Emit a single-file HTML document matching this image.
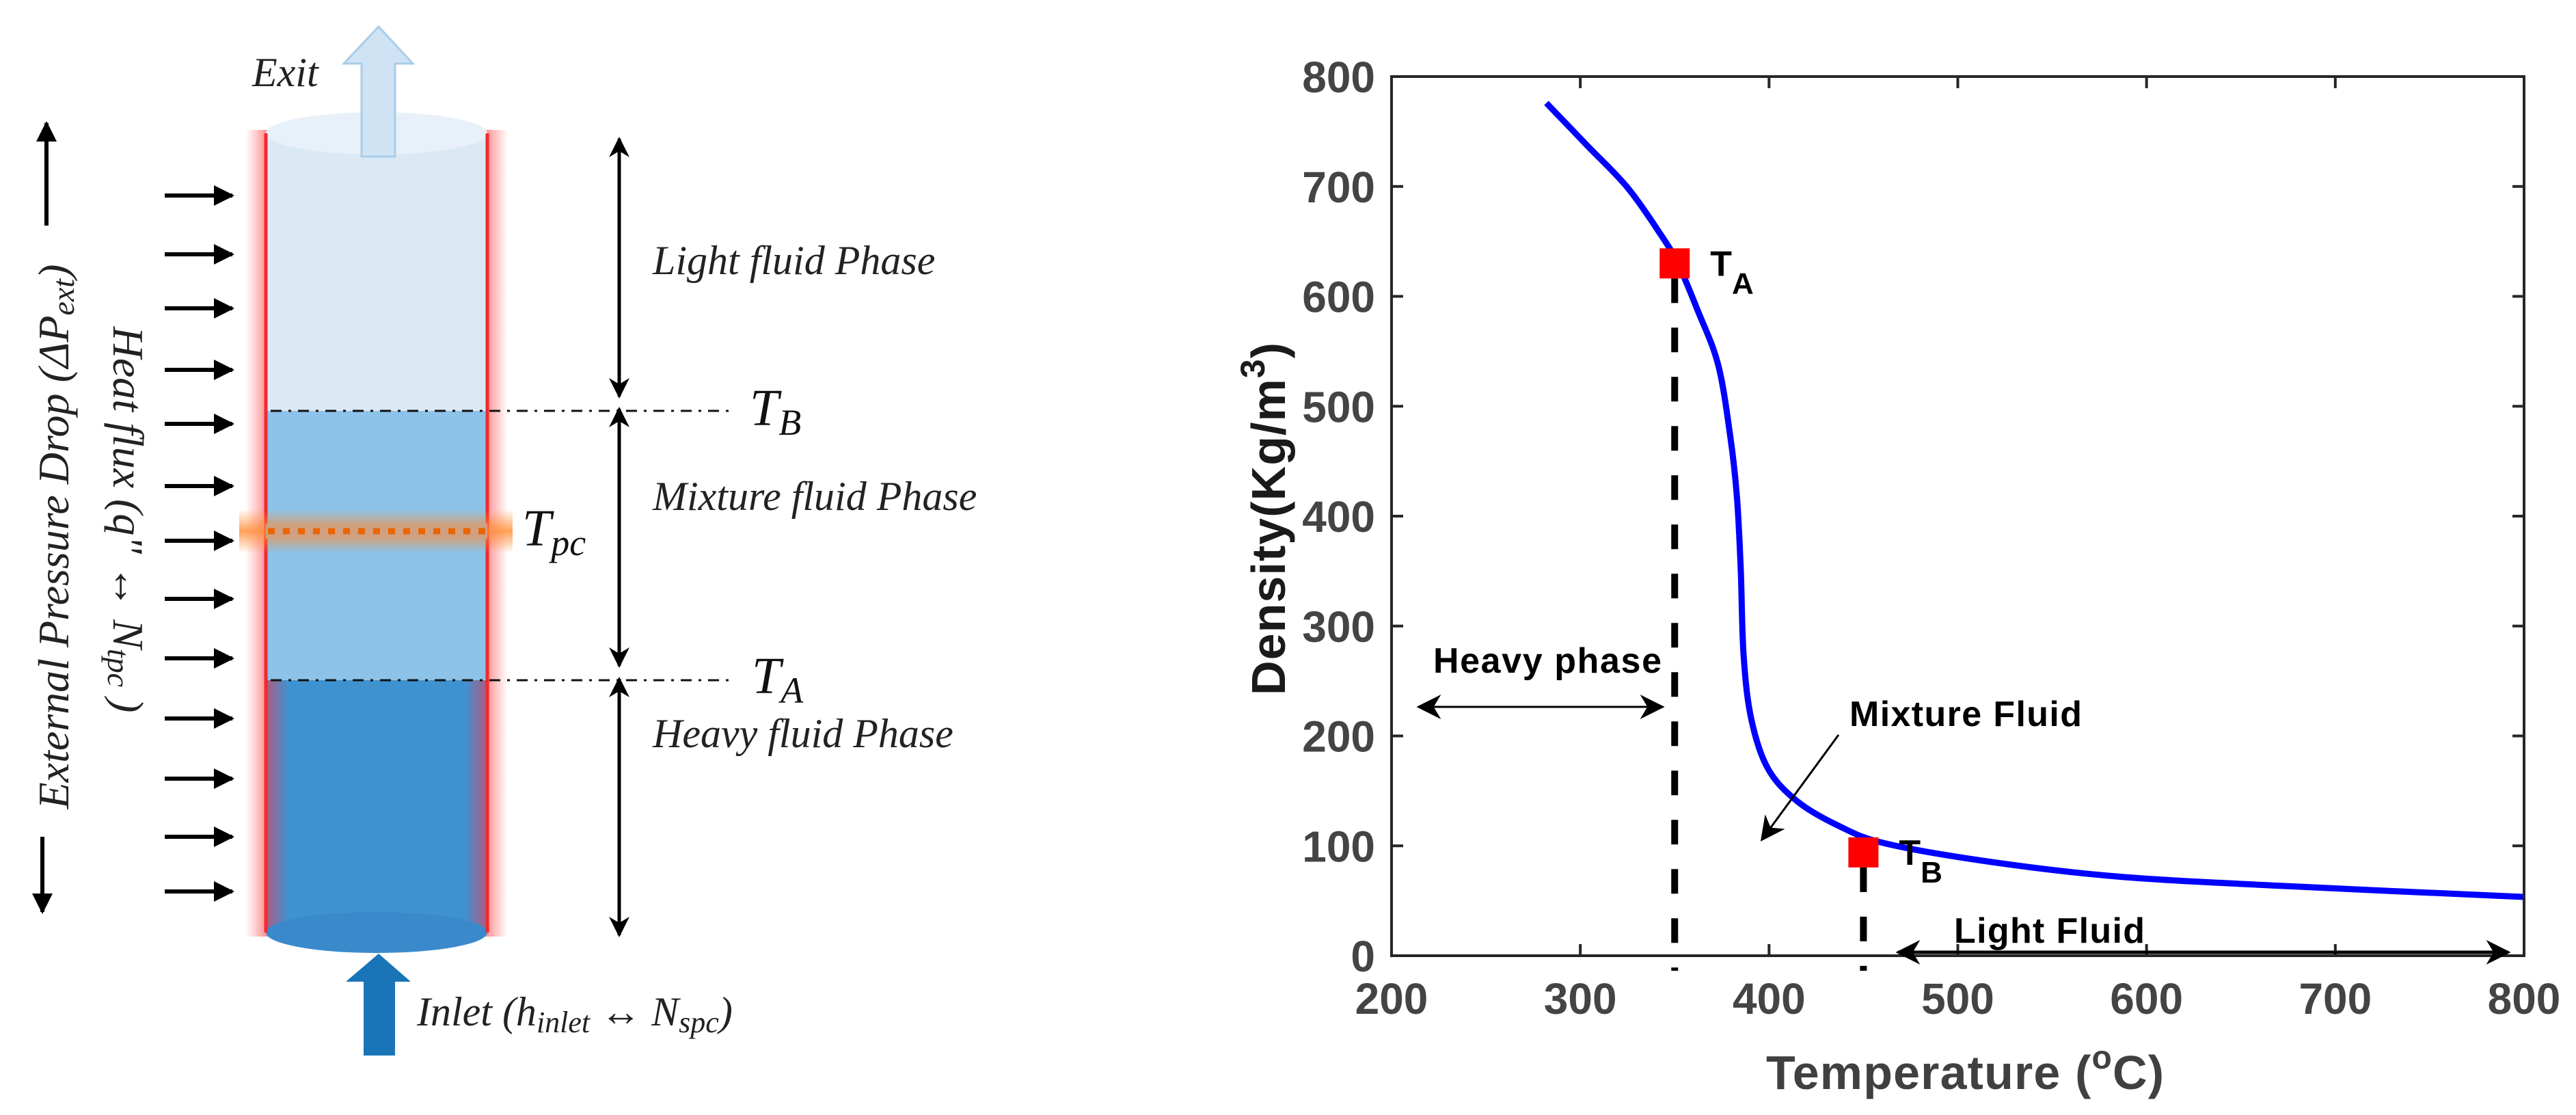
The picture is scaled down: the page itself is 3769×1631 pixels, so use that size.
<!DOCTYPE html>
<html><head><meta charset="utf-8"><style>
html,body{margin:0;padding:0;background:#fff;}
svg{display:block;}
</style></head><body>
<svg id="root" width="3769" height="1631" viewBox="0 0 3769 1631" xmlns="http://www.w3.org/2000/svg">
<defs>
<linearGradient id="wallglow" x1="0" x2="1" y1="0" y2="0">
<stop offset="0" stop-color="#ff9090" stop-opacity="0"/><stop offset="0.5" stop-color="#ff8080" stop-opacity="0.85"/><stop offset="1" stop-color="#ff9090" stop-opacity="0"/></linearGradient>
<linearGradient id="tpcglow" x1="0" x2="0" y1="0" y2="1">
<stop offset="0" stop-color="#ff8a30" stop-opacity="0"/><stop offset="0.5" stop-color="#ff8a30" stop-opacity="0.8"/><stop offset="1" stop-color="#ff8a30" stop-opacity="0"/></linearGradient>
<linearGradient id="heavyg" x1="0" x2="1" y1="0" y2="0">
<stop offset="0" stop-color="#b05a80"/><stop offset="0.1" stop-color="#3f92d0"/><stop offset="0.9" stop-color="#3f92d0"/><stop offset="1" stop-color="#b05a80"/></linearGradient>
<marker id="ahL" viewBox="0 0 10 10" refX="9" refY="5" markerWidth="40" markerHeight="36" orient="auto-start-reverse" markerUnits="userSpaceOnUse"><path d="M0,0 L10,5 L0,10 L3,5 z" fill="#000"/></marker>
<marker id="ahM" viewBox="0 0 10 10" refX="9" refY="5" markerWidth="32" markerHeight="30" orient="auto-start-reverse" markerUnits="userSpaceOnUse"><path d="M0,0 L10,5 L0,10 L3,5 z" fill="#000"/></marker>
<marker id="ahH" viewBox="0 0 10 10" refX="9" refY="5" markerWidth="30" markerHeight="30" orient="auto-start-reverse" markerUnits="userSpaceOnUse"><path d="M0,0 L10,5 L0,10 z" fill="#000"/></marker>
</defs>

<!-- LEFT DIAGRAM -->
<g>
  <rect x="359" y="190" width="60" height="1180" fill="url(#wallglow)"/>
  <rect x="683" y="190" width="60" height="1180" fill="url(#wallglow)"/>
  <rect x="389" y="195" width="324" height="406" fill="#dbe9f5"/>
  <rect x="389" y="601" width="324" height="394" fill="#8dc3e8"/>
  <rect x="389" y="995" width="324" height="369" fill="url(#heavyg)"/>
  <ellipse cx="551" cy="1364" rx="162" ry="30" fill="#3a8acb"/>
  <ellipse cx="551" cy="195" rx="162" ry="31" fill="#e8f1f9"/>
  <line x1="389" y1="195" x2="389" y2="1364" stroke="#f02a30" stroke-width="5"/>
  <line x1="713" y1="195" x2="713" y2="1364" stroke="#f02a30" stroke-width="5"/>
  <rect x="350" y="745" width="400" height="64" fill="url(#tpcglow)"/>
  <rect x="389" y="766" width="324" height="22" fill="#d0a080"/>
  <line x1="392" y1="777" x2="713" y2="777" stroke="#ea6500" stroke-width="9" stroke-dasharray="10 12"/>
  <line x1="396" y1="601" x2="1074" y2="601" stroke="#111" stroke-width="3" stroke-dasharray="16 10 4 10"/>
  <line x1="396" y1="995" x2="1074" y2="995" stroke="#111" stroke-width="3" stroke-dasharray="16 10 4 10"/>
  <path d="M529,229 L529,93 L503,93 L554,39 L604,93 L578,93 L578,229 Z" fill="#cfe3f4" stroke="#a9cde9" stroke-width="3"/>
  <text x="369" y="126" font-family="Liberation Serif" font-style="italic" font-size="60" fill="#222">Exit</text>
  <path d="M532,1544 L532,1436 L506,1436 L554,1395 L601,1436 L578,1436 L578,1544 Z" fill="#1a75b8"/>
  <text x="610" y="1500" font-family="Liberation Serif" font-style="italic" font-size="60" fill="#222">Inlet (h<tspan font-size="44" dy="10">inlet</tspan><tspan dy="-10"> ↔  N</tspan><tspan font-size="44" dy="10">spc</tspan><tspan dy="-10">)</tspan></text>
  <g id="heatArrows"></g>
  <line x1="68" y1="330" x2="68" y2="180" stroke="#000" stroke-width="6" marker-end="url(#ahH)"/>
  <line x1="62" y1="1224" x2="62" y2="1334" stroke="#000" stroke-width="6" marker-end="url(#ahH)"/>
  <text transform="translate(100,785) rotate(-90)" text-anchor="middle" font-family="Liberation Serif" font-style="italic" font-size="64" fill="#222">External Pressure Drop (ΔP<tspan font-size="46" dy="8">ext</tspan><tspan dy="-8">)</tspan></text>
  <text transform="translate(166,760) rotate(90)" text-anchor="middle" font-family="Liberation Serif" font-style="italic" font-size="64" fill="#222">Heat flux (q" ↔  N<tspan font-size="46" dy="8">tpc</tspan><tspan dy="-8"> )</tspan></text>
  <line x1="906" y1="203" x2="906" y2="580" stroke="#000" stroke-width="5" marker-start="url(#ahM)" marker-end="url(#ahM)"/>
  <line x1="906" y1="598" x2="906" y2="974" stroke="#000" stroke-width="5" marker-start="url(#ahM)" marker-end="url(#ahM)"/>
  <line x1="906" y1="993" x2="906" y2="1368" stroke="#000" stroke-width="5" marker-start="url(#ahM)" marker-end="url(#ahM)"/>
  <text x="955" y="401" font-family="Liberation Serif" font-style="italic" font-size="60" fill="#222">Light fluid Phase</text>
  <text x="955" y="746" font-family="Liberation Serif" font-style="italic" font-size="60" fill="#222">Mixture fluid Phase</text>
  <text x="955" y="1093" font-family="Liberation Serif" font-style="italic" font-size="60" fill="#222">Heavy fluid Phase</text>
  <text x="1097" y="622" font-family="Liberation Serif" font-style="italic" font-size="76" fill="#111">T<tspan font-size="54" dy="14">B</tspan></text>
  <text x="764" y="798" font-family="Liberation Serif" font-style="italic" font-size="76" fill="#111">T<tspan font-size="54" dy="14">pc</tspan></text>
  <text x="1100" y="1014" font-family="Liberation Serif" font-style="italic" font-size="76" fill="#111">T<tspan font-size="54" dy="14">A</tspan></text>
</g>

<!-- CHART -->
<g id="chart">
  <g id="ticks"></g>
  <path id="curve" fill="none" stroke="#0000ff" stroke-width="9" stroke-linejoin="round"/>
  <g id="marks"></g>
  <rect x="2036" y="112" width="1657" height="1286" fill="none" stroke="#262626" stroke-width="4"/>
  <text transform="translate(1880,759) rotate(-90)" text-anchor="middle" font-family="Liberation Sans" font-weight="bold" font-size="70" fill="#1a1a1a" textLength="516">Density(Kg/m<tspan font-size="50" dy="-30">3</tspan><tspan dy="30">)</tspan></text>
  <text x="2584" y="1593" font-family="Liberation Sans" font-weight="bold" font-size="70" fill="#404040" textLength="582">Temperature (<tspan font-size="48" dy="-30">o</tspan><tspan dy="30">C)</tspan></text>
  <text x="2097" y="984" font-family="Liberation Sans" font-weight="bold" font-size="52" fill="#000" textLength="334">Heavy phase</text>
  <line x1="2076" y1="1034" x2="2432" y2="1034" stroke="#000" stroke-width="3" marker-start="url(#ahL)" marker-end="url(#ahL)"/>
  <text x="2706" y="1062" font-family="Liberation Sans" font-weight="bold" font-size="52" fill="#000" textLength="340">Mixture Fluid</text>
  <line x1="2690" y1="1075" x2="2578" y2="1228" stroke="#000" stroke-width="3" marker-end="url(#ahL)"/>
  <text x="2859" y="1379" font-family="Liberation Sans" font-weight="bold" font-size="52" fill="#000" textLength="279">Light Fluid</text>
  <line x1="2777" y1="1393" x2="3670" y2="1393" stroke="#000" stroke-width="5" marker-start="url(#ahL)" marker-end="url(#ahL)"/>
</g>
</svg>
<script>
const NS='http://www.w3.org/2000/svg';
const heatYs=[286,372,451,541,620,711,791,876,963,1051,1139,1224,1304];
const xTicks=[200,300,400,500,600,700,800];
const yTicks=[0,100,200,300,400,500,600,700,800];
const temps=[282,303.5,325,342.5,351.7,362,373,379.5,383,385,386.5,390.5,399.3,414.6,436.5,462,519,585,672,800];
const dens=[776,737.5,699,656.5,630,588,538,472,417,352,274,216,170.6,141,118.5,102,85,72,63.5,53.5];
const markerT=[350,450];
const markerRho=[630,94];
const markerLbl=['A','B'];
const dropT=[350,450];

const X0=2036,X1=3693,Y0=1398,Y1=112;
function sx(t){return X0+(t-200)/600*(X1-X0);}
function sy(r){return Y0-r/800*(Y0-Y1);}

const ha=document.getElementById('heatArrows');
heatYs.forEach(y=>{
  const l=document.createElementNS(NS,'line');
  l.setAttribute('x1',241);l.setAttribute('x2',340);l.setAttribute('y1',y);l.setAttribute('y2',y);
  l.setAttribute('stroke','#000');l.setAttribute('stroke-width',6);l.setAttribute('marker-end','url(#ahH)');
  
  
  ha.appendChild(l);
});

const tg=document.getElementById('ticks');
function txt(x,y,s,anchor){
  const t=document.createElementNS(NS,'text');
  t.setAttribute('x',x);t.setAttribute('y',y);t.setAttribute('text-anchor',anchor);
  t.setAttribute('font-family','Liberation Sans');t.setAttribute('font-weight','bold');
  t.setAttribute('font-size','64');t.setAttribute('fill','#444');t.textContent=s;
  tg.appendChild(t);return t;
}
function ln(x1,y1,x2,y2,c,w){
  const l=document.createElementNS(NS,'line');
  l.setAttribute('x1',x1);l.setAttribute('y1',y1);l.setAttribute('x2',x2);l.setAttribute('y2',y2);
  l.setAttribute('stroke',c);l.setAttribute('stroke-width',w);return l;
}
xTicks.forEach(v=>{
  const x=sx(v);
  const a=ln(x,Y0,x,Y0-17,'#262626',4);
  
  
  tg.appendChild(a);
  const b=ln(x,Y1,x,Y1+17,'#262626',4);
  
  
  tg.appendChild(b);
  const t=txt(x,1483,String(v),'middle');
  
  
});
yTicks.forEach(v=>{
  const y=sy(v);
  const a=ln(X0,y,X0+17,y,'#262626',4);
  
  
  tg.appendChild(a);
  const b=ln(X1,y,X1-17,y,'#262626',4);
  
  
  tg.appendChild(b);
  const t=txt(2012,y+23,String(v),'end');
  
  
});

const pts=temps.map((t,i)=>[sx(t),sy(dens[i])]);
let d='M'+pts[0][0]+','+pts[0][1];
for(let i=0;i<pts.length-1;i++){
  const p0=pts[Math.max(0,i-1)],p1=pts[i],p2=pts[i+1],p3=pts[Math.min(pts.length-1,i+2)];
  const c1=[p1[0]+(p2[0]-p0[0])/6,p1[1]+(p2[1]-p0[1])/6];
  const c2=[p2[0]-(p3[0]-p1[0])/6,p2[1]-(p3[1]-p1[1])/6];
  d+=' C'+c1[0]+','+c1[1]+' '+c2[0]+','+c2[1]+' '+p2[0]+','+p2[1];
}
document.getElementById('curve').setAttribute('d',d);

const mg=document.getElementById('marks');
dropT.forEach((t,i)=>{
  const x=sx(t);
  const l=ln(x,sy(markerRho[i])+22,x,1420,'#000',10);
  l.setAttribute('stroke-dasharray','36 36');
  
  
  mg.appendChild(l);
});
markerT.forEach((t,i)=>{
  const r=document.createElementNS(NS,'rect');
  r.setAttribute('x',sx(t)-22);r.setAttribute('y',sy(markerRho[i])-22);
  r.setAttribute('width',44);r.setAttribute('height',44);r.setAttribute('fill','#ff0000');
  
  
  mg.appendChild(r);
  const tx=document.createElementNS(NS,'text');
  tx.setAttribute('x',sx(t)+52);tx.setAttribute('y',sy(markerRho[i])+18);
  tx.setAttribute('font-family','Liberation Sans');tx.setAttribute('font-weight','bold');
  tx.setAttribute('font-size','52');tx.setAttribute('fill','#000');
  tx.innerHTML='T<tspan font-size="44" dy="26">'+markerLbl[i]+'</tspan>';
  
  
  mg.appendChild(tx);
});
</script>
</body></html>
